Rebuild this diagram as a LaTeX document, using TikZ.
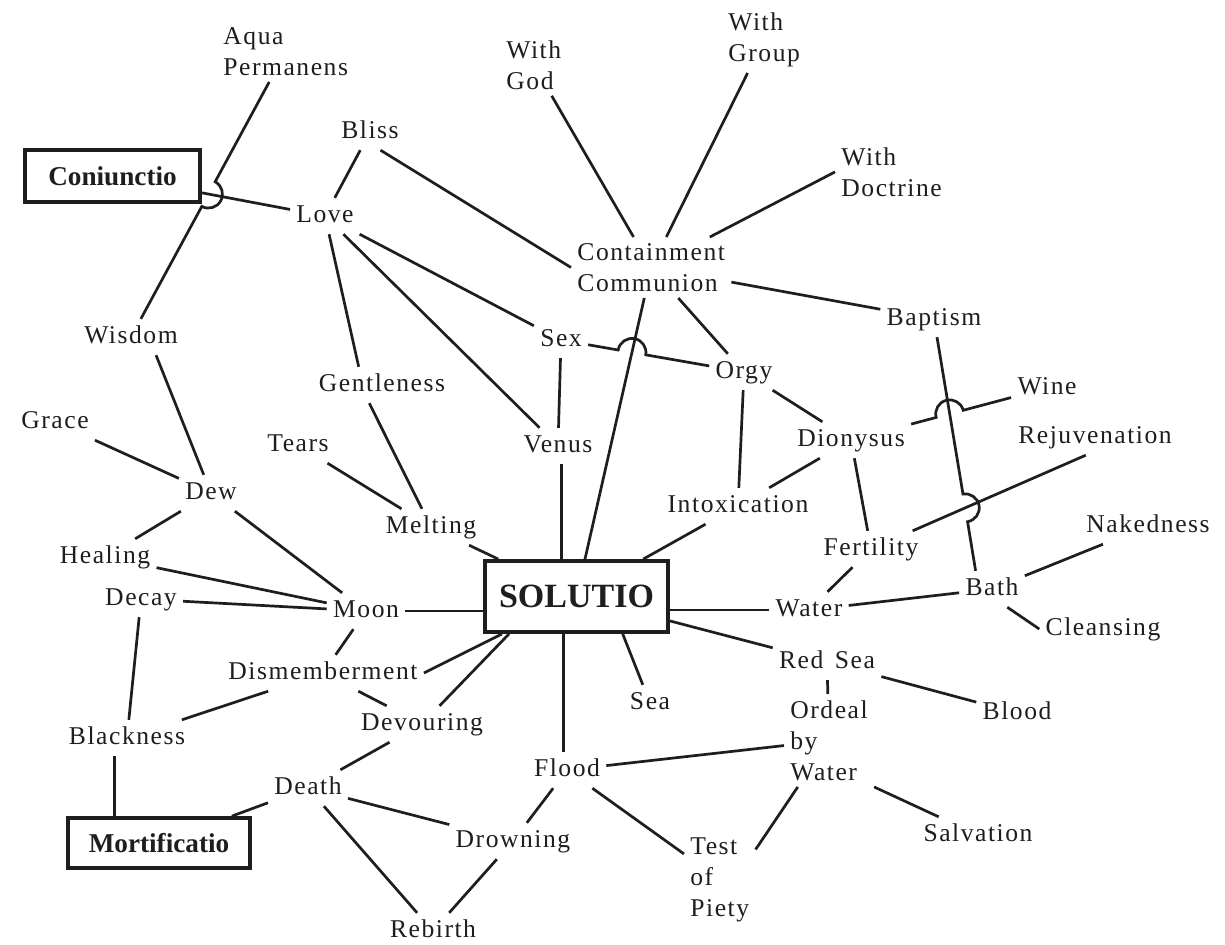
\documentclass[tikz,border=0pt]{standalone}
\usepackage{fontspec}
\setmainfont{Liberation Serif}[LetterSpace=6]
\newfontfamily\boxfont{Liberation Serif}
\usetikzlibrary{calc}
\definecolor{ink}{HTML}{1E1E1E}
\tikzset{
  lbl/.style={inner sep=3pt, text=ink, font=\fontsize{12.8}{15.5}\selectfont, text height=9pt, text depth=2.8pt},
  mlbl/.style={inner sep=3pt, text=ink, font=\fontsize{12.8}{15.5}\selectfont, align=left, anchor=north west},
  bx/.style={draw=ink, text=ink, line width=1.9pt, inner sep=0pt, font=\boxfont\bfseries\fontsize{13.6}{16}\selectfont},
  conn/.style={draw=ink, line width=1.35pt},
}
\newcommand\hopline[5]{%
  \coordinate (hx) at (intersection of #1--#2 and #3--#4);
  \coordinate (ha) at ($(hx)!#5!(#1)$);
  \draw[conn] (#1) -- (ha) let \p1=($(ha)-(hx)$), \n1={atan2(\y1,\x1)} in
    arc[start angle=\n1, delta angle=-180, radius=#5] -- (#2);
}
\begin{document}
\begin{tikzpicture}[x=0.5pt,y=-0.5pt]
\fill[white] (0,0) rectangle (1225,944);
\useasboundingbox (0,0) rectangle (1225,944);
% boxes
\node[bx, minimum width=87.5pt, minimum height=26pt] (coni) at (112.5,176) {Coniunctio};
\node[bx, minimum width=91.5pt, minimum height=35.5pt, font=\boxfont\bfseries\fontsize{17}{20}\selectfont] (solutio) at (576.5,596.5) {SOLUTIO};
\node[bx, minimum width=91pt, minimum height=25pt] (mort) at (159,843) {Mortificatio};
% multi-line labels
\node[mlbl] (aqua) at (217,21) {Aqua\\Permanens};
\node[mlbl] (withgod) at (500,34) {With\\God};
\node[mlbl] (withgroup) at (722,6) {With\\Group};
\node[mlbl] (withdoc) at (835,141) {With\\Doctrine};
\node[mlbl] (contain) at (571,237) {Containment\\Communion};
\node[mlbl] (ordeal) at (784,694) {Ordeal\\by\\Water};
\node[mlbl] (test) at (684,831) {Test\\of\\Piety};
% single labels
\node[lbl] (love) at (325,216) {Love};
\node[lbl] (bliss) at (370,132) {Bliss};
\node[lbl] (baptism) at (934,319) {Baptism};
\node[lbl] (sex) at (561,340) {Sex};
\node[lbl] (orgy) at (744,372) {Orgy};
\node[lbl] (wine) at (1047,388) {Wine};
\node[lbl] (dionysus) at (851,440) {Dionysus};
\node[lbl] (rejuv) at (1095,437) {Rejuvenation};
\node[lbl] (gent) at (382,385) {Gentleness};
\node[lbl] (wisdom) at (131,337) {Wisdom};
\node[lbl] (venus) at (558,446) {Venus};
\node[lbl] (grace) at (55,422) {Grace};
\node[lbl] (tears) at (298,445) {Tears};
\node[lbl] (dew) at (211,493) {Dew};
\node[lbl] (melting) at (431,527) {Melting};
\node[lbl] (intox) at (738,506) {Intoxication};
\node[lbl] (naked) at (1148,526) {Nakedness};
\node[lbl] (fert) at (871,549) {Fertility};
\node[lbl] (healing) at (105,557) {Healing};
\node[lbl] (decay) at (141,599) {Decay};
\node[lbl] (moon) at (366,611) {Moon};
\node[lbl] (water) at (809,610) {Water};
\node[lbl] (bath) at (992,589) {Bath};
\node[lbl] (cleansing) at (1103,629) {Cleansing};
\node[lbl] (dismem) at (323,673) {Dismemberment};
\node[lbl] (redsea) at (827,662) {Red\hspace{0.45em}Sea};
\node[lbl] (sea) at (650,703) {Sea};
\node[lbl] (devour) at (422,724) {Devouring};
\node[lbl] (blackness) at (127,738) {Blackness};
\node[lbl] (blood) at (1017,713) {Blood};
\node[lbl] (flood) at (567,770) {Flood};
\node[lbl] (death) at (308,788) {Death};
\node[lbl] (drowning) at (513,841) {Drowning};
\node[lbl] (salvation) at (978,835) {Salvation};
\node[lbl] (rebirth) at (433,931) {Rebirth};
% connectors
\draw[conn] (coni) -- (love);
\hopline{aqua}{wisdom}{coni}{love}{7pt}
\draw[conn] (bliss) -- (love);
\draw[conn] (bliss.-60) -- (contain.west);
\draw[conn] (love) -- (gent.142);
\draw[conn] (love) -- (venus);
\draw[conn] (love) -- (sex);
\draw[conn] (withgod) -- (contain);
\draw[conn] (withgroup) -- (contain);
\draw[conn] (withdoc.west) -- (contain);
\draw[conn] (contain) -- (baptism);
\draw[conn] (contain) -- (solutio);
\draw[conn] (contain) -- (orgy);
\hopline{sex}{orgy}{contain}{solutio}{7pt}
\draw[conn] (sex) -- (venus);
\draw[conn] (venus.-80) -- (venus.-80 |- solutio.north);
\draw[conn] (gent.-125) -- (melting);
\draw[conn] (tears) -- (melting);
\draw[conn] (melting) -- (solutio);
\draw[conn] (orgy) -- (intox);
\draw[conn] (orgy) -- (dionysus);
\draw[conn] (dionysus) -- (intox);
\draw[conn] (intox) -- (solutio);
\draw[conn] (dionysus) -- (fert);
\hopline{dionysus}{wine}{baptism}{bath.132}{7pt}
\hopline{baptism}{bath.132}{fert}{rejuv.-117}{7pt}
\draw[conn] (fert) -- (rejuv.-117);
\draw[conn] (fert) -- (water);
\draw[conn] (water) -- (water -| solutio.east);
\draw[conn] (water) -- (bath);
\draw[conn] (bath) -- (naked);
\draw[conn] (bath.-50) -- (cleansing.west);
\draw[conn] (solutio) -- (redsea);
\draw[conn] (redsea) -- (blood);
\draw[conn] (redsea) -- (ordeal);
\draw[conn] (sea) -- (solutio.-39);
\draw[conn] (flood.100) -- (flood.100 |- solutio.south);
\draw[conn] (flood) -- (ordeal);
\draw[conn] (flood) -- (drowning);
\draw[conn] (flood) -- (test);
\draw[conn] (ordeal) -- (test.40);
\draw[conn] (ordeal.south east) -- (salvation);
\draw[conn] (drowning) -- (rebirth);
\draw[conn] (death) -- (drowning);
\draw[conn] (death) -- (rebirth);
\draw[conn] (death) -- (devour);
\draw[conn] (death) -- (mort);
\draw[conn] (blackness.-125) -- (blackness.-125 |- mort.north);
\draw[conn] (blackness) -- (dismem);
\draw[conn] (decay) -- (blackness);
\draw[conn] (decay) -- (moon);
\draw[conn] (healing) -- (moon);
\draw[conn] (dew) -- (healing);
\draw[conn] (dew) -- (moon);
\draw[conn] (grace) -- (dew);
\draw[conn] (wisdom.-36) -- (dew);
\draw[conn] (moon) -- (moon -| solutio.west);
\draw[conn] (moon) -- (dismem);
\draw[conn] (dismem.east) -- (solutio);
\draw[conn] (dismem) -- (devour);
\draw[conn] (devour) -- (solutio.-151);
\end{tikzpicture}
\end{document}
